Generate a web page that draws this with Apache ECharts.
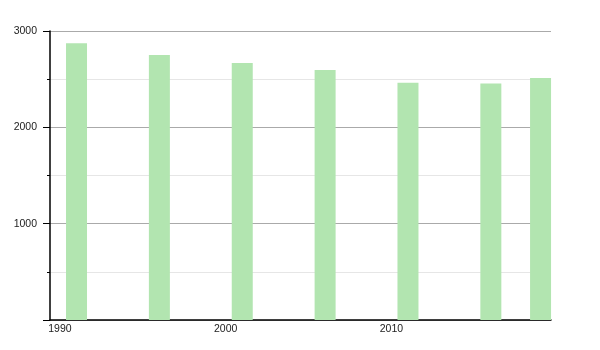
<!DOCTYPE html>
<html>
<head>
<meta charset="utf-8">
<script src="https://cdn.jsdelivr.net/npm/echarts@6/dist/echarts.min.js"></script>
<style>html,body{margin:0;padding:0;background:#fff;}#c{width:600px;height:350px;}</style>
</head>
<body>
<div id="c"></div>
<script>
var years = [1991, 1996, 2001, 2006, 2011, 2016, 2019];
var values = [2872, 2751, 2668, 2596, 2464, 2454, 2513];
var xTickLabels = [1990, 2000, 2010];
var yTickLabels = [1000, 2000, 3000];

var chart = echarts.init(document.getElementById('c'), null, {renderer: 'canvas'});
chart.setOption({
  animation: false,
  grid: {left: 50, right: 49, top: 31, bottom: 30, containLabel: false},
  xAxis: {
    type: 'value',
    min: 1989.4,
    max: 2019.63,
    axisLine: {show: true, lineStyle: {color: '#000', width: 1.5}},
    axisTick: {show: false},
    splitLine: {show: false},
    axisLabel: {
      customValues: xTickLabels,
      color: '#222',
      fontSize: 10.5,
      fontFamily: 'Liberation Sans',
      margin: 4,
      formatter: function (v) { return String(v); }
    }
  },
  yAxis: {
    type: 'value',
    min: 0,
    max: 3000,
    interval: 1000,
    axisLine: {show: true, lineStyle: {color: '#000', width: 1.5}},
    axisTick: {show: true, length: 7, lineStyle: {color: '#000'}},
    minorTick: {show: true, splitNumber: 2, length: 3, lineStyle: {color: '#000'}},
    splitLine: {show: true, lineStyle: {color: '#aaaaaa', width: 1}},
    minorSplitLine: {show: true, lineStyle: {color: '#e6e6e6', width: 1}},
    axisLabel: {
      color: '#222',
      fontSize: 10.5,
      fontFamily: 'Liberation Sans',
      margin: 13,
      formatter: function (v) { return yTickLabels.indexOf(v) >= 0 ? String(v) : ''; }
    }
  },
  series: [{
    type: 'bar',
    data: years.map(function (y, i) { return [y, values[i]]; }),
    barWidth: 21,
    itemStyle: {color: '#b2e5b0'}
  }]
});
</script>
</body>
</html>
